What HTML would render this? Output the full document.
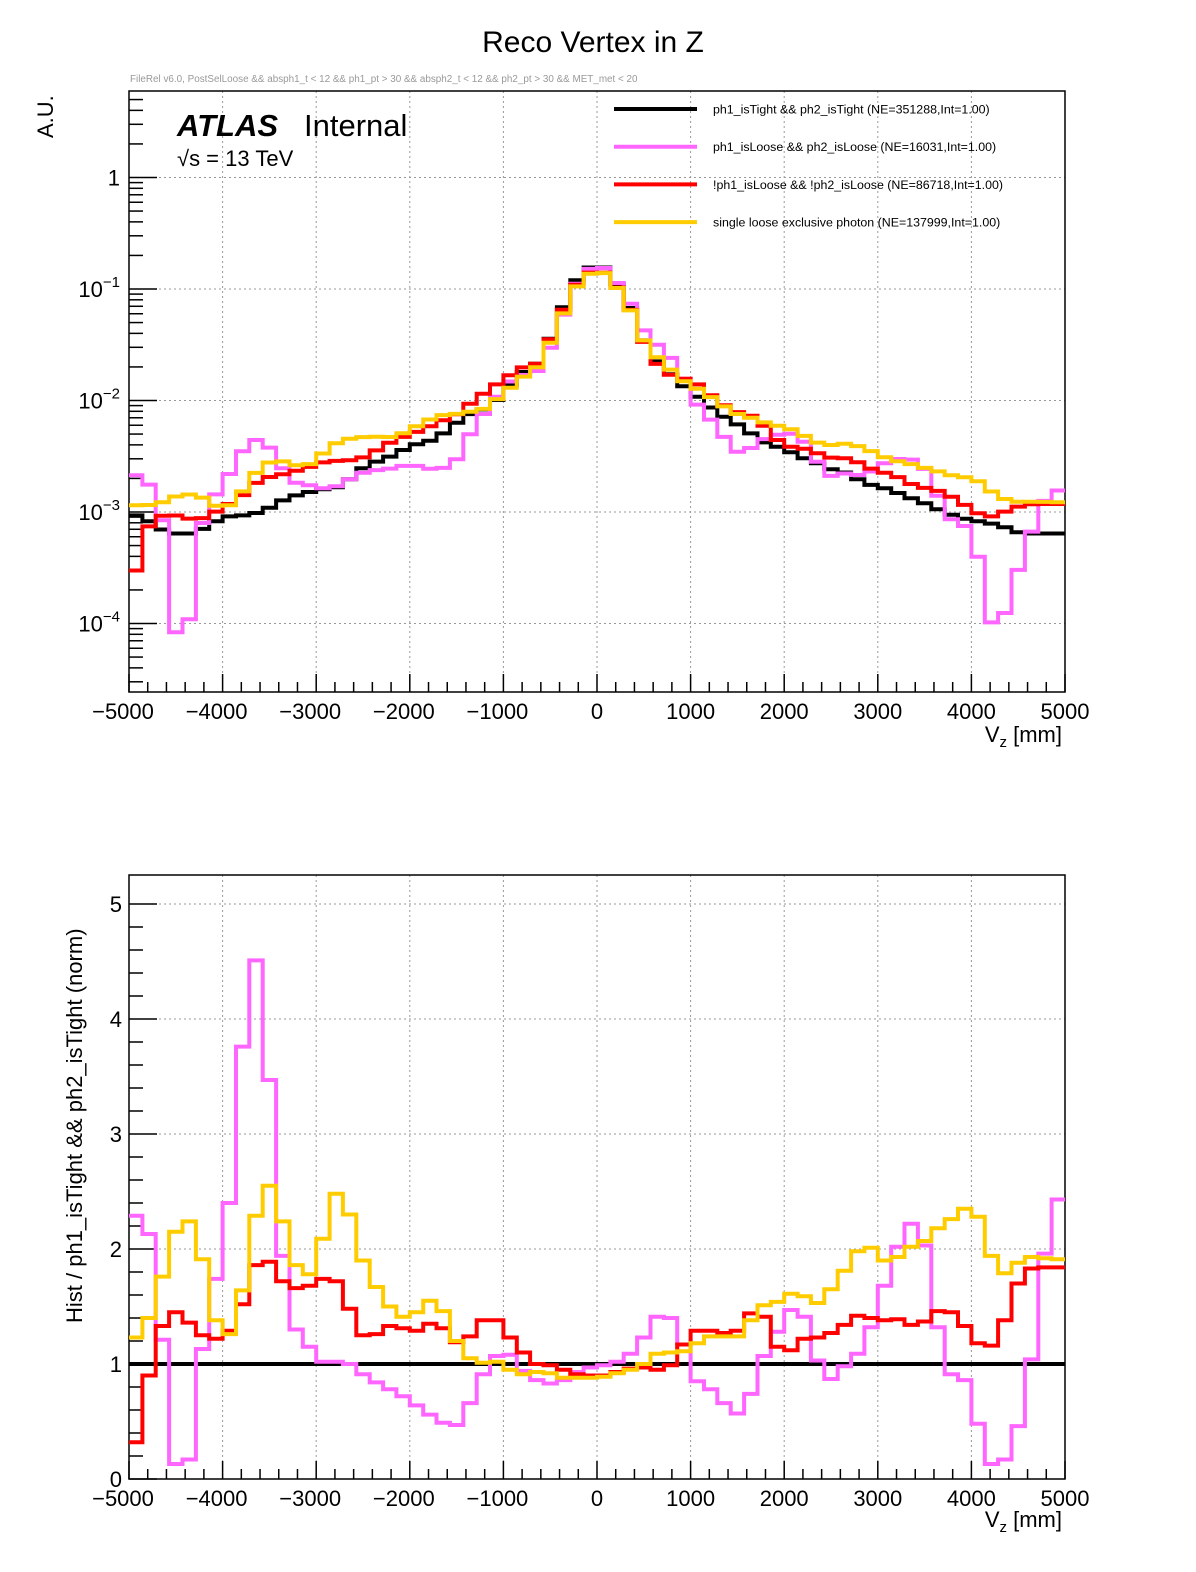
<!DOCTYPE html>
<html><head><meta charset="utf-8"><style>
body{margin:0;background:#fff}
svg{display:block;font-family:"Liberation Sans",Arial,sans-serif}
</style></head><body>
<svg id="chart" width="1196" height="1572" viewBox="0 0 1196 1572" xmlns="http://www.w3.org/2000/svg">
<rect x="0" y="0" width="1196" height="1572" fill="#fff"/>
<text x="593" y="52" font-size="30" text-anchor="middle">Reco Vertex in Z</text>
<text x="130" y="82" font-size="9.9" fill="#999">FileRel v6.0, PostSelLoose &amp;&amp; absph1_t &lt; 12 &amp;&amp; ph1_pt &gt; 30 &amp;&amp; absph2_t &lt; 12 &amp;&amp; ph2_pt &gt; 30 &amp;&amp; MET_met &lt; 20</text>
<g id="top"></g>
<g id="bot"></g>
<text x="177" y="136" font-size="31" font-weight="bold" font-style="italic">ATLAS</text>
<text x="304" y="136" font-size="31">Internal</text>
<text x="177" y="166" font-size="22">√s = 13 TeV</text>
<g id="legend"></g>
<text x="1062" y="742" font-size="22" text-anchor="end">V<tspan font-size="15" dy="5">z</tspan><tspan dy="-5"> [mm]</tspan></text>
<text x="1062" y="1527" font-size="22" text-anchor="end">V<tspan font-size="15" dy="5">z</tspan><tspan dy="-5"> [mm]</tspan></text>
<text transform="translate(53,138) rotate(-90)" font-size="22">A.U.</text>
<text transform="translate(82,1323) rotate(-90)" font-size="22">Hist / ph1_isTight &amp;&amp; ph2_isTight (norm)</text>
</svg>
<script>
const binLow = -5000, binHigh = 5000, nBins = 70;
const blackHist = [9.33e-4,8.26e-4,6.96e-4,6.41e-4,6.41e-4,7.05e-4,8.26e-4,9.14e-4,9.33e-4,9.80e-4,1.09e-3,1.27e-3,1.41e-3,1.51e-3,1.60e-3,1.67e-3,1.97e-3,2.47e-3,2.83e-3,3.14e-3,3.60e-3,4.05e-3,4.36e-3,5.07e-3,6.32e-3,7.55e-3,8.32e-3,1.01e-2,1.37e-2,1.80e-2,2.14e-2,3.58e-2,6.86e-2,0.120,0.156,
0.156,0.111,0.0676,0.0346,0.0224,0.0172,0.0134,0.0108,8.65e-3,7.14e-3,6.10e-3,5.07e-3,4.21e-3,3.85e-3,3.43e-3,3.03e-3,2.74e-3,2.42e-3,2.26e-3,1.97e-3,1.75e-3,1.63e-3,1.48e-3,1.33e-3,1.20e-3,1.06e-3,9.46e-4,8.71e-4,8.26e-4,7.87e-4,7.30e-4,6.58e-4,6.41e-4,6.41e-4,6.41e-4];
const magentaRatio = [2.29,2.13,1.21,0.13,0.17,1.13,1.74,2.40,3.76,4.51,3.47,1.94,1.30,1.15,1.02,1.02,1.0,0.91,0.84,
0.78,0.72,0.64,0.56,0.49,0.47,0.66,0.91,1.07,1.08,0.94,0.86,0.83,0.86,0.93,0.97,0.99,
1.02,1.09,1.23,1.41,1.40,1.17,0.85,0.78,0.66,0.57,0.74,1.07,1.28,1.47,1.41,1.03,0.87,
0.98,1.09,1.32,1.68,2.02,2.22,2.03,1.32,0.91,0.86,0.48,0.13,0.17,0.46,1.04,1.96,2.43];
const yellowRatio = [1.23,1.40,1.76,2.15,2.24,1.91,1.38,1.26,1.64,2.29,2.55,2.24,1.86,1.78,2.09,2.48,2.30,1.90,1.67,
1.50,1.41,1.45,1.55,1.46,1.20,1.05,1.01,1.02,0.95,0.91,0.93,0.92,0.88,0.88,0.88,0.89,
0.92,0.95,1.0,1.09,1.10,1.11,1.18,1.24,1.24,1.24,1.38,1.51,1.54,1.61,1.59,1.53,1.65,
1.81,1.98,2.01,1.90,1.93,2.02,2.07,2.18,2.26,2.35,2.28,1.94,1.79,1.88,1.93,1.92,1.91];
const redRatio = [0.32,0.90,1.33,1.45,1.36,1.25,1.22,1.29,1.52,1.86,1.89,1.72,1.66,1.68,1.74,1.72,1.48,1.25,1.26,
1.33,1.31,1.29,1.35,1.31,1.19,1.24,1.38,1.38,1.23,1.10,1.0,0.99,0.95,0.91,0.90,0.90,
0.93,0.96,0.97,0.95,0.99,1.17,1.29,1.29,1.27,1.29,1.44,1.41,1.15,1.12,1.22,1.23,1.27,
1.34,1.42,1.40,1.38,1.39,1.34,1.37,1.46,1.45,1.33,1.18,1.16,1.38,1.70,1.83,1.84,1.84];
const legendLabels = ["ph1_isTight && ph2_isTight (NE=351288,Int=1.00)","ph1_isLoose && ph2_isLoose (NE=16031,Int=1.00)","!ph1_isLoose && !ph2_isLoose (NE=86718,Int=1.00)","single loose exclusive photon (NE=137999,Int=1.00)"];
const xTicks = [-5000,-4000,-3000,-2000,-1000,0,1000,2000,3000,4000,5000];
const topDecades = [-4,-3,-2,-1,0];
const botTicks = [0,1,2,3,4,5];

const NS="http://www.w3.org/2000/svg";
function mk(parent,tag,attrs){const e=document.createElementNS(NS,tag);for(const k in attrs)e.setAttribute(k,attrs[k]);parent.appendChild(e);return e;}
const X0=129,X1=1065;
function xs(v){return X0+(v-binLow)/(binHigh-binLow)*(X1-X0);}
const T={top:91,bot:692,y1:177.5,dec:111.5};
function yTop(v){return T.y1-Math.log10(v)*T.dec;}
const B={top:875,bot:1479,y0:1479,unit:115};
function yBot(v){return B.y0-v*B.unit;}
const binW=(binHigh-binLow)/nBins;
function stepPath(vals,yf){let d="";for(let i=0;i<vals.length;i++){const xa=xs(binLow+i*binW),xb=xs(binLow+(i+1)*binW),y=yf(vals[i]);d+=(i===0?"M":"L")+xa.toFixed(1)+","+y.toFixed(1)+"L"+xb.toFixed(1)+","+y.toFixed(1);}return d;}
const colors={black:"#000",magenta:"#ff66ff",red:"#ff0000",yellow:"#ffcc00"};
const topG=document.getElementById('top'), botG=document.getElementById('bot');

function frame(g,top,bot,name){
  xTicks.forEach(t=>{if(t>binLow&&t<binHigh){const l=mk(g,'line',{x1:xs(t),x2:xs(t),y1:top,y2:bot,stroke:'#999','stroke-dasharray':'2,3','stroke-width':1});
  
  }});
  for(let v=binLow;v<=binHigh;v+=200){const major=(v%1000===0);const l=mk(g,'line',{x1:xs(v),x2:xs(v),y1:bot,y2:bot-(major?18:10),stroke:'#000','stroke-width':1.5});
  
  }
  xTicks.forEach(t=>{const tx=mk(g,'text',{x:xs(t)+(t<0?-6:0),y:bot+27,'font-size':22,'text-anchor':'middle'});tx.textContent=(t<0?'\u2212'+(-t):String(t));
  
  });
}
frame(topG,T.top,T.bot,'top');
topDecades.forEach(d=>{const y=yTop(Math.pow(10,d));
  const gl=mk(topG,'line',{x1:X0,x2:X1,y1:y,y2:y,stroke:'#999','stroke-dasharray':'2,3','stroke-width':1});
  
  
  const tk=mk(topG,'line',{x1:X0,x2:X0+28,y1:y,y2:y,stroke:'#000','stroke-width':1.5});
  
  
  const tx=mk(topG,'text',{x:120,y:y+8,'font-size':22,'text-anchor':'end'});
  
  
  if(d===0){tx.textContent='1';}else{tx.textContent='10';const s=mk(tx,'tspan',{dy:-10,'font-size':15});s.textContent=(d<0?'\u2212':'')+Math.abs(d);}
});
for(let d=-5;d<=0;d++){for(let m=2;m<=9;m++){const v=m*Math.pow(10,d);const y=yTop(v);if(y<T.top||y>T.bot)continue;
  const tk=mk(topG,'line',{x1:X0,x2:X0+14,y1:y,y2:y,stroke:'#000','stroke-width':1.5});
  
  }}
const tf=mk(topG,'rect',{x:X0,y:T.top,width:X1-X0,height:T.bot-T.top,fill:'none',stroke:'#000','stroke-width':1.5});



const series=[["black",blackHist.map(()=>1)],["magenta",magentaRatio],["red",redRatio],["yellow",yellowRatio]];
series.forEach(([c,r])=>{
  const vals=blackHist.map((b,i)=>b*r[i]);
  const p=mk(topG,'path',{d:stepPath(vals,yTop),fill:'none',stroke:colors[c],'stroke-width':4});
  
  
});
frame(botG,B.top,B.bot,'bot');
botTicks.forEach(t=>{const y=yBot(t);
  if(t>0){const gl=mk(botG,'line',{x1:X0,x2:X1,y1:y,y2:y,stroke:'#999','stroke-dasharray':'2,3','stroke-width':1});
  
  }
  const tk=mk(botG,'line',{x1:X0,x2:X0+28,y1:y,y2:y,stroke:'#000','stroke-width':1.5});
  
  
  const tx=mk(botG,'text',{x:122,y:y+8,'font-size':22,'text-anchor':'end'});tx.textContent=String(t);
  
  
});
for(let v=0.2;v<5.2;v+=0.2){if(Math.abs(v-Math.round(v))<0.01)continue;const y=yBot(v);if(y<B.top)continue;
  const tk=mk(botG,'line',{x1:X0,x2:X0+14,y1:y,y2:y,stroke:'#000','stroke-width':1.5});
  
  }
const bf=mk(botG,'rect',{x:X0,y:B.top,width:X1-X0,height:B.bot-B.top,fill:'none',stroke:'#000','stroke-width':1.5});


series.forEach(([c,r])=>{
  const p=mk(botG,'path',{d:stepPath(r,yBot),fill:'none',stroke:colors[c],'stroke-width':4});
  
  
});
const lg=document.getElementById('legend');
["black","magenta","red","yellow"].forEach((c,i)=>{const y=109+i*37.7;
  const l=mk(lg,'line',{x1:614,x2:697,y1:y,y2:y,stroke:colors[c],'stroke-width':4});
  
  
  const t=mk(lg,'text',{x:713,y:y+4.5,'font-size':12.4});t.textContent=legendLabels[i];
  
  
});
</script>
</body></html>
